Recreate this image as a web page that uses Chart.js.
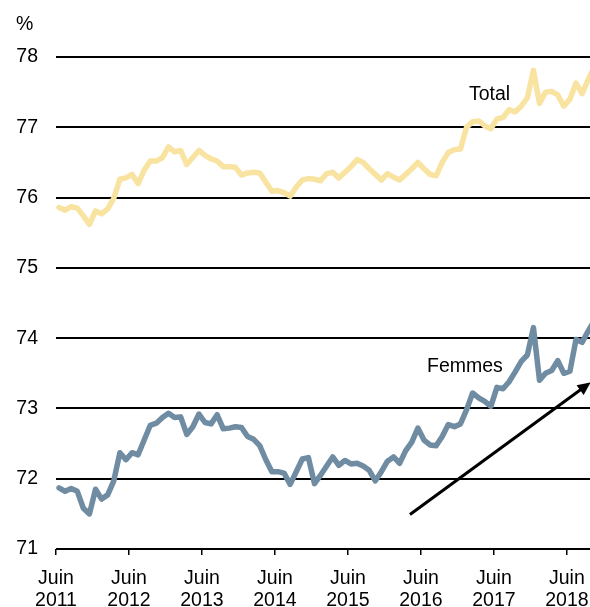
<!DOCTYPE html>
<html>
<head>
<meta charset="utf-8">
<script src="https://cdn.jsdelivr.net/npm/chart.js@4.4.1/dist/chart.umd.min.js"></script>
<style>
  html,body{margin:0;padding:0;background:#fff}
  #wrap{width:590px;height:607px}
</style>
</head>
<body>
<div id="wrap"><canvas id="chart" width="590" height="607"></canvas></div>
<script>
// Monthly series, June 2011 onward (% employment rate)
const tickYears = [2011, 2012, 2013, 2014, 2015, 2016, 2017, 2018];
const tickMonth = 'Juin';
const yTicks = [71, 72, 73, 74, 75, 76, 77, 78];

const total = [
  75.86,75.82,75.87,75.85,75.74,75.62,75.81,75.77,75.84,75.99,
  76.26,76.28,76.33,76.20,76.39,76.52,76.52,76.57,76.72,76.65,
  76.67,76.47,76.57,76.67,76.60,76.55,76.52,76.44,76.44,76.43,
  76.32,76.35,76.36,76.35,76.22,76.09,76.10,76.07,76.02,76.15,
  76.25,76.27,76.26,76.24,76.34,76.36,76.28,76.36,76.44,76.54,
  76.50,76.41,76.33,76.25,76.34,76.29,76.25,76.33,76.41,76.50,
  76.41,76.33,76.31,76.50,76.64,76.68,76.69,77.00,77.08,77.09,
  77.02,76.98,77.12,77.14,77.25,77.22,77.30,77.42,77.81,77.34,
  77.50,77.51,77.46,77.30,77.40,77.63,77.48,77.68,77.85
];
const femmes = [
  71.87,71.82,71.86,71.82,71.58,71.50,71.85,71.71,71.77,71.97,
  72.37,72.27,72.37,72.34,72.55,72.76,72.79,72.87,72.93,72.87,
  72.88,72.63,72.74,72.92,72.80,72.78,72.91,72.71,72.72,72.74,
  72.73,72.60,72.56,72.47,72.27,72.10,72.10,72.08,71.92,72.10,
  72.28,72.30,71.93,72.05,72.18,72.31,72.19,72.26,72.21,72.22,
  72.18,72.12,71.97,72.10,72.25,72.31,72.22,72.40,72.52,72.72,
  72.55,72.48,72.47,72.60,72.77,72.74,72.78,72.98,73.22,73.15,
  73.10,73.03,73.30,73.28,73.38,73.52,73.67,73.76,74.15,73.40,
  73.50,73.54,73.68,73.50,73.53,73.98,73.94,74.10,74.25
];

// annotation anchors in data units (month index, %)
const totalLabelAt = [67.9, 77.39];
const femmesLabelAt = [61.0, 73.52];
const arrowFrom = [58.2, 71.49];
const arrowTo = [87.9, 73.37];

const FONT = "'Liberation Sans', Arial, sans-serif";
const FS = 19.5;

const toPoints = arr => arr.map((v, i) => ({x: i + 0.5, y: v}));

const notes = {
  id: 'notes',
  afterDatasetsDraw(chart){
    const {ctx, scales:{x, y}} = chart;
    ctx.save();
    ctx.fillStyle = '#000';
    ctx.font = FS + 'px ' + FONT;
    ctx.textAlign = 'left';
    ctx.textBaseline = 'alphabetic';
    ctx.fillText('%', 16, 30);
    ctx.fillText('Total', x.getPixelForValue(totalLabelAt[0]), y.getPixelForValue(totalLabelAt[1]));
    ctx.fillText('Femmes', x.getPixelForValue(femmesLabelAt[0]), y.getPixelForValue(femmesLabelAt[1]));

    // trend arrow
    const x0 = x.getPixelForValue(arrowFrom[0]), y0 = y.getPixelForValue(arrowFrom[1]);
    const x1 = x.getPixelForValue(arrowTo[0]), y1 = y.getPixelForValue(arrowTo[1]);
    const a = Math.atan2(y1 - y0, x1 - x0);
    const hl = 13, hw = 6;
    ctx.strokeStyle = '#000';
    ctx.lineWidth = 3;
    ctx.beginPath();
    ctx.moveTo(x0, y0);
    ctx.lineTo(x1 - Math.cos(a) * hl * 0.8, y1 - Math.sin(a) * hl * 0.8);
    ctx.stroke();
    ctx.beginPath();
    ctx.moveTo(x1, y1);
    ctx.lineTo(x1 - Math.cos(a) * hl - Math.sin(a) * hw, y1 - Math.sin(a) * hl + Math.cos(a) * hw);
    ctx.lineTo(x1 - Math.cos(a) * hl + Math.sin(a) * hw, y1 - Math.sin(a) * hl - Math.cos(a) * hw);
    ctx.closePath();
    ctx.fill();
    ctx.restore();
  }
};

new Chart(document.getElementById('chart'), {
  type: 'line',
  data: {
    datasets: [
      {label: 'Total', data: toPoints(total), borderColor: '#F9E3A1'},
      {label: 'Femmes', data: toPoints(femmes), borderColor: '#6F8CA2'}
    ]
  },
  options: {
    responsive: false,
    animation: false,
    layout: {padding: {top: 57, left: 0, right: 0, bottom: 0}},
    plugins: {legend: {display: false}, tooltip: {enabled: false}},
    elements: {
      point: {radius: 0},
      line: {tension: 0, borderWidth: 5.5, borderJoinStyle: 'round', borderCapStyle: 'round'}
    },
    scales: {
      x: {
        type: 'linear', min: 0, max: 87.8,
        afterBuildTicks: s => { s.ticks = tickYears.map((yr, k) => ({value: k * 12})); },
        afterFit: s => { s.height = 58; s.paddingRight = 0; s.paddingLeft = 0; },
        ticks: {
          autoSkip: false, maxRotation: 0, padding: 13, color: '#000',
          font: {family: FONT, size: FS, lineHeight: 1.12},
          callback: (v, i) => [tickMonth, String(tickYears[i])]
        },
        grid: {drawOnChartArea: false, drawTicks: true, tickLength: 6, color: '#000', lineWidth: 1.5},
        border: {display: false}
      },
      y: {
        min: 71, max: 78,
        afterBuildTicks: s => { s.ticks = yTicks.map(v => ({value: v})); },
        afterFit: s => { s.width = 56; },
        ticks: {padding: 18, color: '#000', font: {family: FONT, size: FS}},
        grid: {color: '#000', lineWidth: 2, drawTicks: false},
        border: {display: false}
      }
    }
  },
  plugins: [notes]
});
</script>
</body>
</html>
